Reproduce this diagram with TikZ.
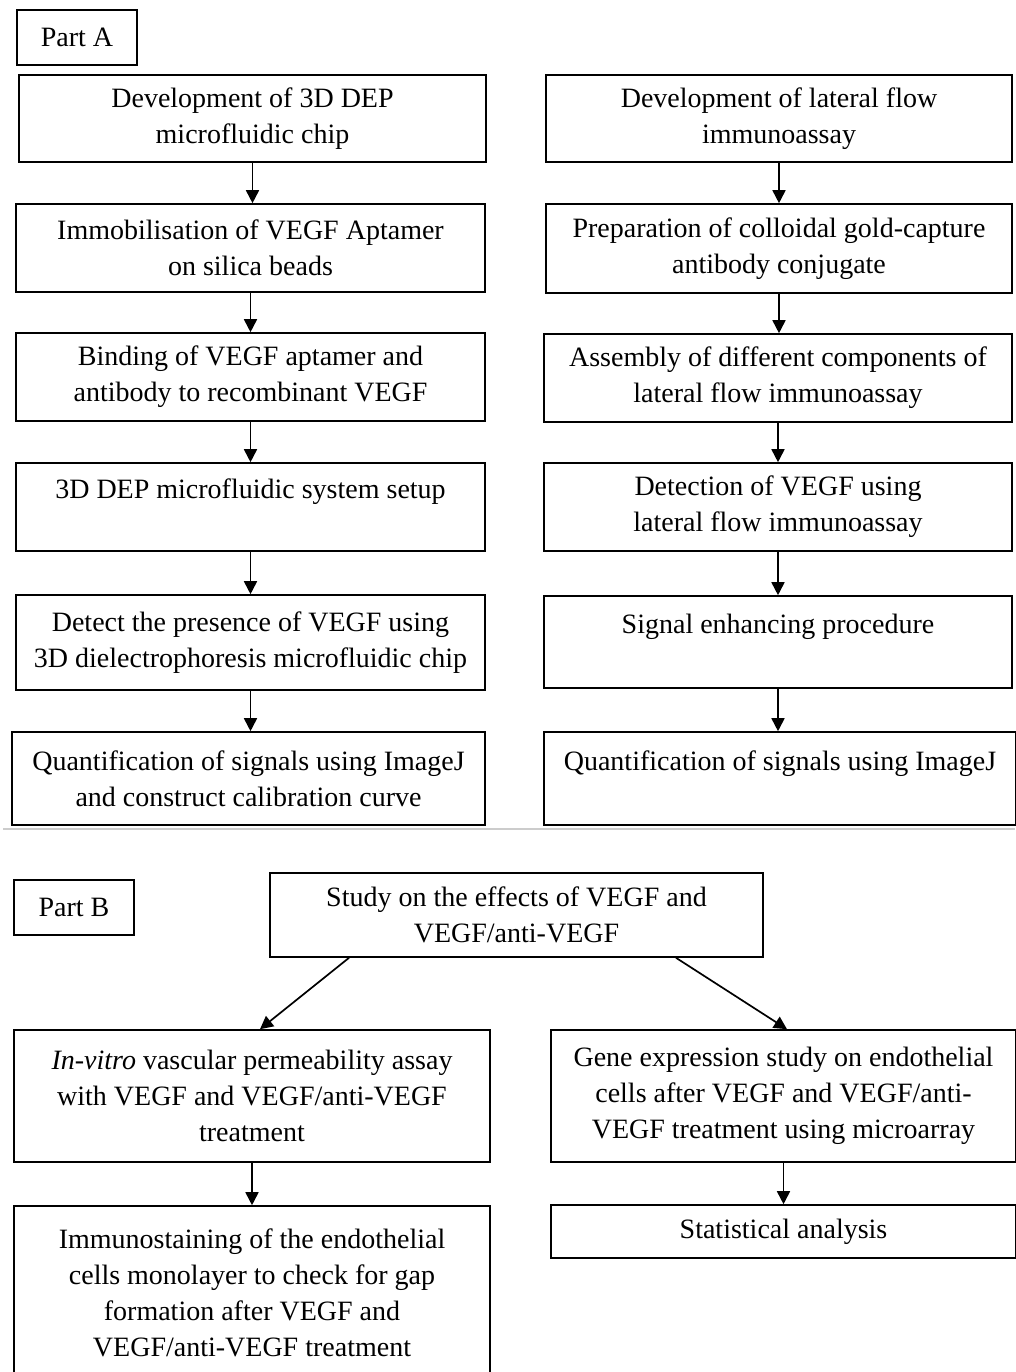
\documentclass[tikz,border=0pt]{standalone}
\usepackage{fontspec}
\setmainfont{Liberation Serif}
\usetikzlibrary{arrows.meta}

\tikzset{
  stage/.style={draw,line width=1.6pt,align=center,inner sep=0pt,font=\fontsize{28}{36}\selectfont},
  flow/.style={line width=1.7pt,-{Triangle[length=13pt,width=13pt]}}
}

\begin{document}
\begin{tikzpicture}[x=1pt,y=-1pt]
  \useasboundingbox (0,0) rectangle (1015,1372);
  % Part A
  \node[stage,minimum width=120pt,minimum height=55pt] (partA) at (77,37.5) {Part A};
  \node[stage,minimum width=467pt,minimum height=87pt] (devChip) at (252.5,118.5) {Development of 3D DEP\\microfluidic chip};
  \node[stage,minimum width=469pt,minimum height=88pt] (immob) at (250.5,248) {Immobilisation of VEGF Aptamer\\on silica beads};
  \node[stage,minimum width=469pt,minimum height=88pt] (binding) at (250.5,377) {Binding of VEGF aptamer and\\antibody to recombinant VEGF};
  \node[stage,minimum width=469pt,minimum height=88pt] (setup) at (250.5,507) {3D DEP microfluidic system setup\\\mbox{}};
  \node[stage,minimum width=469pt,minimum height=95pt] (detectDep) at (250.5,642.5) {Detect the presence of VEGF using\\3D dielectrophoresis microfluidic chip};
  \node[stage,minimum width=473pt,minimum height=93pt] (quantDep) at (248.5,778.5) {Quantification of signals using ImageJ\\and construct calibration curve};

  \node[stage,minimum width=466pt,minimum height=87pt] (devLfa) at (779,118.5) {Development of lateral flow\\immunoassay};
  \node[stage,minimum width=466pt,minimum height=89pt] (gold) at (779,248.5) {Preparation of colloidal gold-capture\\antibody conjugate};
  \node[stage,minimum width=468pt,minimum height=88pt] (assembly) at (778,378) {Assembly of different components of\\lateral flow immunoassay};
  \node[stage,minimum width=468pt,minimum height=88pt] (detectLfa) at (778,507) {Detection of VEGF using\\lateral flow immunoassay};
  \node[stage,minimum width=468pt,minimum height=92pt] (enhance) at (778,642) {Signal enhancing procedure\\\mbox{}};
  \node[stage,minimum width=472pt,minimum height=93pt] (quantLfa) at (780,778.5) {Quantification of signals using ImageJ\\\mbox{}};

  \draw[flow] (devChip.south) -- (devChip.south |- immob.north);
  \draw[flow] (immob.south) -- (immob.south |- binding.north);
  \draw[flow] (binding.south) -- (binding.south |- setup.north);
  \draw[flow] (setup.south) -- (setup.south |- detectDep.north);
  \draw[flow] (detectDep.south) -- (detectDep.south |- quantDep.north);

  \draw[flow] (devLfa.south) -- (devLfa.south |- gold.north);
  \draw[flow] (gold.south) -- (gold.south |- assembly.north);
  \draw[flow] (assembly.south) -- (assembly.south |- detectLfa.north);
  \draw[flow] (detectLfa.south) -- (detectLfa.south |- enhance.north);
  \draw[flow] (enhance.south) -- (enhance.south |- quantLfa.north);

  \draw[line width=2pt,gray!40] (3,829) -- (1015,829);

  % Part B
  \node[stage,minimum width=120pt,minimum height=55pt] (partB) at (74,907.5) {Part B};
  \node[stage,minimum width=493pt,minimum height=84pt] (effects) at (516.5,915) {Study on the effects of VEGF and\\VEGF/anti-VEGF};
  \node[stage,minimum width=476pt,minimum height=132pt] (permeab) at (252,1096) {\textit{In-vitro} vascular permeability assay\\with VEGF and VEGF/anti-VEGF\\treatment};
  \node[stage,minimum width=465pt,minimum height=132pt] (geneExp) at (783.5,1096) {Gene expression study on endothelial\\cells after VEGF and VEGF/anti-\\VEGF treatment using microarray};
  \node[stage,minimum width=476pt,minimum height=174pt] (stain) at (252,1293) {Immunostaining of the endothelial\\cells monolayer to check for gap\\formation after VEGF and\\VEGF/anti-VEGF treatment};
  \node[stage,minimum width=465pt,minimum height=53pt] (stats) at (783.5,1231.5) {Statistical analysis};

  \draw[flow] ([xshift=-167.5pt]effects.south) -- ([xshift=8pt]permeab.north);
  \draw[flow] ([xshift=159.5pt]effects.south) -- ([xshift=3.5pt]geneExp.north);
  \draw[flow] (permeab.south) -- (permeab.south |- stain.north);
  \draw[flow] (geneExp.south) -- (geneExp.south |- stats.north);
\end{tikzpicture}
\end{document}
